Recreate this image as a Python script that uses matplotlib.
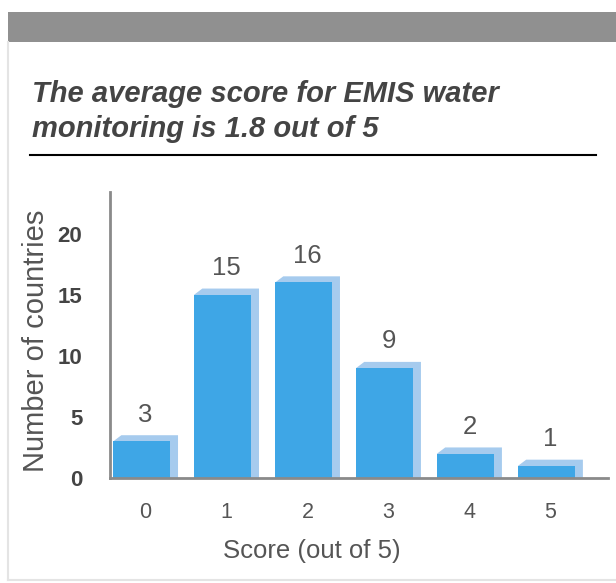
import matplotlib
matplotlib.use("Agg")
import matplotlib.pyplot as plt
from matplotlib.patches import Rectangle
from matplotlib.lines import Line2D

scores = [0, 1, 2, 3, 4, 5]
countries = [3, 15, 16, 9, 2, 1]
yticks = [0, 5, 10, 15, 20]
title = "The average score for EMIS water\nmonitoring is 1.8 out of 5"
xlabel = "Score (out of 5)"
ylabel = "Number of countries"

W, H = 616, 583
fig = plt.figure(figsize=(W / 100, H / 100), dpi=100)
fig.patch.set_facecolor("white")
plt.rcParams['font.family'] = ['Liberation Sans', 'DejaVu Sans']

def px(x, y):
    return x / W, 1 - y / H

# header band
fig.patches.append(Rectangle(px(8, 42), (W - 8) / W, 30 / H, transform=fig.transFigure,
                             facecolor="#909090", edgecolor="none"))
# frame lines
fig.lines.append(Line2D([8 / W, 8 / W], [1 - 42 / H, 1 - 580 / H], transform=fig.transFigure,
                        color="#e4e4e4", lw=1.5))
fig.lines.append(Line2D([8 / W, 1], [1 - 580 / H, 1 - 580 / H], transform=fig.transFigure,
                        color="#e4e4e4", lw=1.5))
# title
fig.text(32 / W, 1 - 80 / H, title, ha="left", va="top", fontsize=21, fontweight="bold",
         style="italic", color="#444444", linespacing=1.3)
fig.lines.append(Line2D([30 / W, 596 / W], [1 - 155 / H, 1 - 155 / H], transform=fig.transFigure,
                        color="black", lw=1.5))

ax = fig.add_axes([110 / W, 1 - 478 / H, (608 - 110) / W, (478 - 192) / H])
main_c = "#3ea6e6"
shadow_c = "#a6cbee"
bw = 0.70
dx = 0.10
dh = 0.5
for x, v in zip(scores, countries):
    xl = x - bw / 2 - dx / 2
    xr = xl + bw
    ax.fill([xl, xl + dx, xr + dx, xr + dx, xl], [v, v + dh, v + dh, 0, 0],
            color=shadow_c, lw=0, zorder=1)
    ax.bar(xl, v, width=bw, align="edge", color=main_c, zorder=2)
    ax.text(x, v + dh + 0.7, str(v), ha="center", va="bottom", fontsize=18.5,
            color="#555555")

ax.set_xlim(-0.44, 5.71)
ax.set_ylim(0, 23.4)
ax.set_xticks(scores)
ax.set_xticklabels([str(s) for s in scores], fontsize=15.5, color="#555555")
ax.set_yticks(yticks)
ax.set_yticklabels([str(t) for t in yticks], fontsize=16, fontweight="bold", color="#444444")
ax.tick_params(axis="both", length=0)
ax.tick_params(axis="x", pad=17)
ax.tick_params(axis="y", pad=20)
for s in ["top", "right"]:
    ax.spines[s].set_visible(False)
for s in ["left", "bottom"]:
    ax.spines[s].set_color("#8a8a8a")
    ax.spines[s].set_linewidth(2)
ax.set_xlabel(xlabel, fontsize=18.5, color="#555555", labelpad=12)
ax.xaxis.set_label_coords((312 - 110) / (608 - 110), -0.215)
ax.set_ylabel(ylabel, fontsize=21, color="#555555", labelpad=4)
ax.yaxis.set_label_coords(-0.12, 0.48)

fig.savefig("out.png", dpi=100)
